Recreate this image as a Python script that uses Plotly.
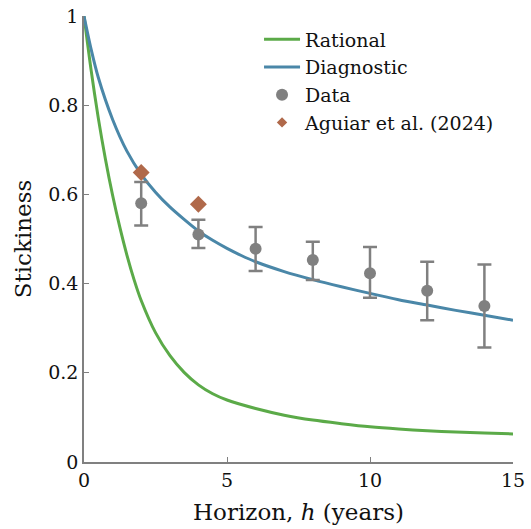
import plotly.graph_objects as go

# Model curves
h_rational = [0, 0.25, 0.5, 0.75, 1.0, 1.25, 1.5, 1.75, 2.0, 2.5, 3, 3.5, 4, 4.5, 5, 6, 7, 8, 9, 10, 11, 12, 13, 14, 15]
rational = [1.0, 0.878, 0.771, 0.679, 0.598, 0.527, 0.464, 0.409, 0.362, 0.29, 0.239, 0.201, 0.173, 0.153, 0.139,
            0.12, 0.105, 0.094, 0.086, 0.079, 0.074, 0.07, 0.067, 0.065, 0.063]

h_diag = [0, 0.25, 0.5, 1, 1.5, 2, 2.5, 3, 3.5, 4, 4.5, 5, 5.5, 6, 7, 8, 9, 10, 11, 12, 13, 14, 15]
diagnostic = [1.0, 0.925, 0.862, 0.768, 0.697, 0.645, 0.605, 0.572, 0.544, 0.518, 0.497, 0.479, 0.463, 0.449,
              0.427, 0.409, 0.393, 0.378, 0.364, 0.352, 0.34, 0.329, 0.318]

# Data with error bars
h_data = [2, 4, 6, 8, 10, 12, 14]
data_val = [0.58, 0.51, 0.478, 0.453, 0.423, 0.384, 0.350]
data_hi = [0.628, 0.543, 0.527, 0.494, 0.482, 0.449, 0.443]
data_lo = [0.530, 0.480, 0.428, 0.408, 0.368, 0.318, 0.257]

h_aguiar = [2, 4]
aguiar = [0.649, 0.578]

GREEN = "#5BAA48"
BLUE = "#4A87A8"
GRAY = "#808080"
BROWN = "#B0694A"
FONT = "DejaVu Serif"

fig = go.Figure()
fig.add_trace(go.Scatter(x=h_rational, y=rational, mode="lines", name="Rational",
                         line=dict(color=GREEN, width=3, shape="spline", smoothing=0.8)))
fig.add_trace(go.Scatter(x=h_diag, y=diagnostic, mode="lines", name="Diagnostic",
                         line=dict(color=BLUE, width=3, shape="spline", smoothing=0.8)))
fig.add_trace(go.Scatter(
    x=h_data, y=data_val, mode="markers", name="Data",
    marker=dict(color=GRAY, size=12, symbol="circle"),
    error_y=dict(type="data", symmetric=False,
                 array=[hi - v for hi, v in zip(data_hi, data_val)],
                 arrayminus=[v - lo for v, lo in zip(data_val, data_lo)],
                 color=GRAY, thickness=2.5, width=7)))
fig.add_trace(go.Scatter(x=h_aguiar, y=aguiar, mode="markers", name="Aguiar et al. (2024)",
                         marker=dict(color=BROWN, size=13, symbol="diamond"), showlegend=False))
# legend entry with the smaller diamond used in the reference's key
fig.add_trace(go.Scatter(x=[None], y=[None], mode="markers", name="Aguiar et al. (2024)",
                         marker=dict(color=BROWN, size=8, symbol="diamond")))

axis_common = dict(showline=True, linecolor=GRAY, linewidth=1.5, ticks="inside", ticklen=5,
                   tickcolor=GRAY, tickwidth=1, showgrid=False, zeroline=False, automargin=False,
                   tickfont=dict(family=FONT, size=19, color="#111"))

fig.update_layout(
    width=531, height=529,
    margin=dict(l=84, r=18, t=16, b=67),
    paper_bgcolor="white", plot_bgcolor="white",
    font=dict(family=FONT, color="#111"),
    xaxis=dict(range=[0, 15], tickvals=[0, 5, 10, 15],
               title=dict(text="Horizon, <i>h</i> (years)", font=dict(family=FONT, size=23), standoff=14),
               **axis_common),
    yaxis=dict(range=[0, 1], tickvals=[0, 0.2, 0.4, 0.6, 0.8, 1], ticktext=["0", "0.2", "0.4", "0.6", "0.8", "1"],
               title=dict(text="Stickiness", font=dict(family=FONT, size=23), standoff=10),
               **axis_common),
    legend=dict(x=0.408, y=0.99, xanchor="left", yanchor="top", bgcolor="rgba(0,0,0,0)",
                font=dict(family=FONT, size=19, color="#111"), tracegroupgap=0, itemwidth=36),
    showlegend=True,
)

fig.write_html("out.html")
